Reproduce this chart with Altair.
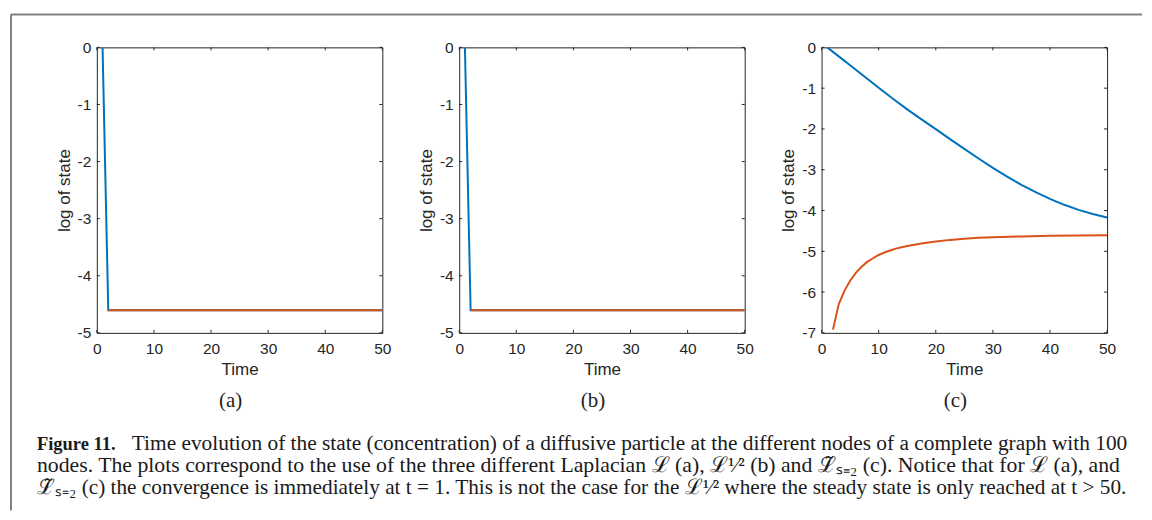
import altair as alt
import pandas as pd

# ---------------- data ----------------
x_ticks = [0, 10, 20, 30, 40, 50]
y_ticks_ab = [0, -1, -2, -3, -4, -5]
y_ticks_c = [0, -1, -2, -3, -4, -5, -6, -7]

# panel (a)  L
a_blue_t = [1, 2, 50]
a_blue_v = [0.0, -4.605, -4.605]
a_orange_t = [2, 50]
a_orange_v = [-4.605, -4.605]

# panel (b)  L^{1/2}
b_blue_t = [1, 2, 50]
b_blue_v = [0.0, -4.605, -4.605]
b_orange_t = [2, 50]
b_orange_v = [-4.605, -4.605]

# panel (c)  L~_{s=2}
c_blue_t = [1, 2.5, 5, 7.5, 10, 12.5, 15, 17.5, 20, 22.5, 25, 27.5, 30, 32.5, 35,
            37.5, 40, 42.5, 45, 47.5, 50]
c_blue_v = [0.0, -0.165, -0.44, -0.715, -0.99, -1.26, -1.52, -1.765, -2.005, -2.25,
            -2.49, -2.725, -2.955, -3.17, -3.37, -3.55, -3.715, -3.86, -3.985, -4.085, -4.17]
c_orange_t = [2, 3, 4, 5, 6, 7, 8, 9, 10, 11, 12, 13, 14, 15, 17.5, 20, 22.5, 25, 27.5,
              30, 35, 40, 45, 50]
c_orange_v = [-6.92, -6.30, -5.97, -5.72, -5.53, -5.38, -5.26, -5.17, -5.09, -5.03, -4.98,
              -4.935, -4.90, -4.87, -4.81, -4.76, -4.72, -4.69, -4.67, -4.655, -4.635,
              -4.62, -4.612, -4.607]

panel_labels = ["(a)", "(b)", "(c)"]

caption_bold = "Figure 11."
caption_l1 = ("Time evolution of the state (concentration) of a diffusive particle at the "
              "different nodes of a complete graph with 100")
caption_l2 = ("nodes. The plots correspond to the use of the three different Laplacian "
              "\u2112 (a), \u2112\u00b9\u2044\u00b2 (b) and \u2112\u0303\u209b\u208c\u2082 (c). "
              "Notice that for \u2112 (a), and")
caption_l3 = ("\u2112\u0303\u209b\u208c\u2082 (c) the convergence is immediately at t = 1. "
              "This is not the case for the \u2112\u00b9\u2044\u00b2 where the steady state "
              "is only reached at t > 50.")

# ---------------- style ----------------
BLUE = "#0072BD"
ORANGE = "#D95319"
AX = "#262626"
FRAME = "#808080"
W = H = 286
SANS = "Liberation Sans"
SERIF = "Liberation Serif"
HYPHEN_MINUS = "replace(datum.label, '\u2212', '-')"


def panel(bt, bv, ot, ov, ymin, yticks, label, extra=None):
    xs = alt.Scale(domain=[0, 50], nice=False, zero=False)
    ys = alt.Scale(domain=[ymin, 0], nice=False, zero=False)
    xa = alt.Axis(values=x_ticks, title="Time")
    ya = alt.Axis(values=yticks, title="log of state", labelExpr=HYPHEN_MINUS)

    blue = pd.DataFrame({"t": bt, "v": bv})
    orange = pd.DataFrame({"t": ot, "v": ov})
    xt = pd.DataFrame({"t": x_ticks})
    yt = pd.DataFrame({"v": yticks})

    X = alt.X("t:Q", scale=xs, axis=xa)
    Y = alt.Y("v:Q", scale=ys, axis=ya)

    layers = [
        alt.Chart(blue).mark_line(color=BLUE, strokeWidth=2, clip=True).encode(x=X, y=Y),
        alt.Chart(orange).mark_line(color=ORANGE, strokeWidth=2, clip=True).encode(x=X, y=Y),
        # inward ticks (MATLAB style box)
        alt.Chart(xt).mark_rule(color=AX, strokeWidth=1).encode(x=X, y=alt.value(H), y2=alt.value(H - 3)),
        alt.Chart(xt).mark_rule(color=AX, strokeWidth=1).encode(x=X, y=alt.value(0), y2=alt.value(3)),
        alt.Chart(yt).mark_rule(color=AX, strokeWidth=1).encode(y=Y, x=alt.value(0), x2=alt.value(3)),
        alt.Chart(yt).mark_rule(color=AX, strokeWidth=1).encode(y=Y, x=alt.value(W), x2=alt.value(W - 3)),
        alt.Chart(pd.DataFrame({"s": [label]})).mark_text(
            font=SERIF, fontSize=21, color="#222222", align="center", baseline="middle"
        ).encode(x=alt.value(134), y=alt.value(354), text="s:N"),
    ]
    if extra:
        layers += extra
    return alt.layer(*layers).properties(width=W, height=H)


one = pd.DataFrame({"k": [0]})
frame = [
    alt.Chart(one).mark_rule(color=FRAME, strokeWidth=2).encode(
        x=alt.value(-86), y=alt.value(-33), y2=alt.value(464)),
    alt.Chart(one).mark_rule(color=FRAME, strokeWidth=2).encode(
        x=alt.value(-86), x2=alt.value(1047), y=alt.value(-33)),
]


def cap(text, x, y, size, bold=False):
    return alt.Chart(pd.DataFrame({"s": [text]})).mark_text(
        font=SERIF, fontSize=size, color="#1a1a1a", align="left", baseline="alphabetic",
        fontWeight="bold" if bold else "normal"
    ).encode(x=alt.value(x), y=alt.value(y), text="s:N")


caption = [
    cap(caption_bold, -60, 403, 18.5, bold=True),
    cap(caption_l1, 35, 403, 21.4),
    cap(caption_l2, -60, 425, 21.8),
    cap(caption_l3, -60, 447, 21.3),
]

pa = panel(a_blue_t, a_blue_v, a_orange_t, a_orange_v, -5, y_ticks_ab, panel_labels[0],
           extra=frame + caption)
pb = panel(b_blue_t, b_blue_v, b_orange_t, b_orange_v, -5, y_ticks_ab, panel_labels[1])
pc = panel(c_blue_t, c_blue_v, c_orange_t, c_orange_v, -7, y_ticks_c, panel_labels[2])

chart = alt.hconcat(pa, pb, pc, spacing=77, bounds="flush").properties(
    padding={"left": 1, "top": 4, "right": 0, "bottom": 0},
    background="white",
).configure_view(
    stroke=AX, strokeWidth=1
).configure_axis(
    grid=False, domain=False, ticks=False, tickSize=0,
    labelFont=SANS, labelFontSize=15.5, labelColor=AX,
    titleFont=SANS, titleFontSize=17, titleColor=AX, titleFontWeight="normal",
    labelPadding=6,
).configure_axisX(
    labelPadding=9, titlePadding=4, labelFlush=False,
).configure_axisY(
    titlePadding=4, labelFlush=False,
)

chart.save("out.html", embed_options={"renderer": "svg", "actions": False})
